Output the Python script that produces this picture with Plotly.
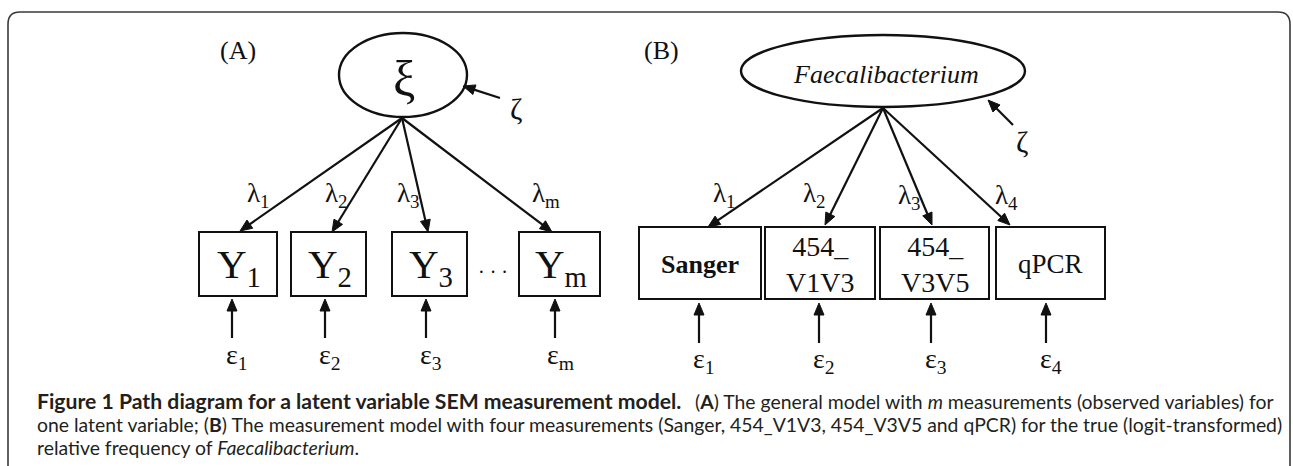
import math
import plotly.graph_objects as go

# ---------------- content (labels) ----------------
panel_labels = ["(A)", "(B)"]
latent_a = "ξ"
latent_b = "<i>Faecalibacterium</i>"
disturbance = "ζ"
items_a = ["Y<sub>1</sub>", "Y<sub>2</sub>", "Y<sub>3</sub>", "Y<sub>m</sub>"]
items_b = ["<b>Sanger</b>", "454_<br>V1V3", "454_<br>V3V5", "qPCR"]
loading_idx_a = ["1", "2", "3", "m"]
loading_idx_b = ["1", "2", "3", "4"]
error_idx_a = ["1", "2", "3", "m"]
error_idx_b = ["1", "2", "3", "4"]
caption_bold = "<b>Figure 1 Path diagram for a latent variable SEM measurement model.</b>"
caption_line1_rest = "(<b>A</b>) The general model with <i>m</i> measurements (observed variables) for"
caption_line2 = "one latent variable; (<b>B</b>) The measurement model with four measurements (Sanger, 454_V1V3, 454_V3V5 and qPCR) for the true (logit-transformed)"
caption_line3 = "relative frequency of <i>Faecalibacterium</i>."

# ---------------- layout geometry (pixels) ----------------
W, H = 1293, 466
SERIF = "Times New Roman, Liberation Serif, serif"
SANS = "Lato"
INK = "#111111"

ell_a = dict(cx=403, cy=75, rx=64, ry=42)
ell_b = dict(cx=883, cy=71, rx=142, ry=36)
root_a = (402, 118)
root_b = (883, 108)
boxes_a = [(199, 277), (291, 366), (392, 467), (519, 600)]
boxes_b = [(639, 761), (765, 875), (880, 989), (996, 1105)]
box_y_a = (232, 296)
box_y_b = (227, 299)
tips_a = [(240, 231), (332, 232), (428, 232), (552, 232)]
tips_b = [(708, 227), (825, 225), (932, 225), (1010, 225)]
lam_pos_a = [(258, 195), (336, 195), (408, 195), (546, 195)]
lam_pos_b = [(724, 195), (814, 195), (909, 197), (1006, 197)]
err_x_a = [232, 325, 426, 555]
err_x_b = [699, 819, 931, 1046]

fig = go.Figure()
shapes = []
annos = []


def line(x0, y0, x1, y1, w=2.2, color=INK):
    shapes.append(dict(type="line", x0=x0, y0=y0, x1=x1, y1=y1,
                       xref="x", yref="y", line=dict(color=color, width=w)))


def arrow(x0, y0, x1, y1, L=12, hw=5, w=2.2):
    dx, dy = x1 - x0, y1 - y0
    n = math.hypot(dx, dy)
    ux, uy = dx / n, dy / n
    bx, by = x1 - ux * L, y1 - uy * L
    px, py = -uy, ux
    line(x0, y0, bx + ux * 2, by + uy * 2, w)
    path = (f"M {x1:.2f} {y1:.2f} L {bx + px * hw:.2f} {by + py * hw:.2f} "
            f"L {bx - px * hw:.2f} {by - py * hw:.2f} Z")
    shapes.append(dict(type="path", path=path, xref="x", yref="y",
                       fillcolor=INK, line=dict(color=INK, width=1)))


def text(x, y, s, size, family=SERIF, xanchor="center", yanchor="middle",
         color=INK):
    annos.append(dict(x=x, y=y, xref="x", yref="y", text=s, showarrow=False,
                      xanchor=xanchor, yanchor=yanchor,
                      font=dict(family=family, size=size, color=color)))


# frame (rounded top corners, open bottom)
shapes.append(dict(type="path", xref="x", yref="y",
                   path="M 8 480 L 8 24 Q 8 12 20 12 L 1278 12 Q 1290 12 1290 24 L 1290 480",
                   line=dict(color="#3a3a3a", width=1.6)))

# panel labels
text(238, 50, panel_labels[0], 26)
text(661, 50, panel_labels[1], 26)

# latent ellipses
for e in (ell_a, ell_b):
    shapes.append(dict(type="circle", xref="x", yref="y",
                       x0=e["cx"] - e["rx"], x1=e["cx"] + e["rx"],
                       y0=e["cy"] - e["ry"], y1=e["cy"] + e["ry"],
                       line=dict(color=INK, width=2.4)))
text(ell_a["cx"] + 1, ell_a["cy"] + 4, latent_a, 50)
text(ell_b["cx"] + 3, ell_b["cy"] + 3, latent_b, 26)

# disturbances
arrow(500, 98, 463, 86)
text(516, 108, disturbance, 30)
arrow(1013, 125, 988, 100)
text(1022, 141, disturbance, 30)

# boxes
for (x0, x1) in boxes_a:
    shapes.append(dict(type="rect", xref="x", yref="y", x0=x0, x1=x1,
                       y0=box_y_a[0], y1=box_y_a[1], line=dict(color=INK, width=2)))
for (x0, x1) in boxes_b:
    shapes.append(dict(type="rect", xref="x", yref="y", x0=x0, x1=x1,
                       y0=box_y_b[0], y1=box_y_b[1], line=dict(color=INK, width=2)))

# box texts
for (x0, x1), s in zip(boxes_a, items_a):
    text((x0 + x1) / 2 + 1, (box_y_a[0] + box_y_a[1]) / 2 + 3, s, 41)
text((boxes_a[2][1] + boxes_a[3][0]) / 2, 272, "· · ·", 20)
b_sizes = [26, 28, 28, 27]
for (x0, x1), s, fs in zip(boxes_b, items_b, b_sizes):
    text((x0 + x1) / 2, (box_y_b[0] + box_y_b[1]) / 2 + 1, s, fs)

# loading arrows + labels
for tip in tips_a:
    arrow(root_a[0], root_a[1], tip[0], tip[1])
for tip in tips_b:
    arrow(root_b[0], root_b[1], tip[0], tip[1])
for (x, y), idx in zip(lam_pos_a, loading_idx_a):
    text(x, y, f"λ<sub>{idx}</sub>", 27)
for (x, y), idx in zip(lam_pos_b, loading_idx_b):
    text(x, y, f"λ<sub>{idx}</sub>", 27)

# error arrows + labels
for x, idx in zip(err_x_a, error_idx_a):
    arrow(x, 338, x, 299)
    text(x + 5, 356, f"ε<sub>{idx}</sub>", 28)
for x, idx in zip(err_x_b, error_idx_b):
    arrow(x, 343, x, 303)
    text(x + 5, 360, f"ε<sub>{idx}</sub>", 28)

# caption (justified look: first line split left/right)
CAP = "#231f20"
text(35, 401, caption_bold, 21.2, family=SANS, xanchor="left", color=CAP)
text(1276, 401, caption_line1_rest, 19.4, family=SANS, xanchor="right", color=CAP)
text(35, 424, caption_line2, 19.4, family=SANS, xanchor="left", color=CAP)
text(35, 447, caption_line3, 19.4, family=SANS, xanchor="left", color=CAP)

fig.update_layout(
    width=W, height=H, margin=dict(l=0, r=0, t=0, b=0),
    paper_bgcolor="white", plot_bgcolor="white",
    xaxis=dict(range=[0, W], visible=False, fixedrange=True),
    yaxis=dict(range=[H, 0], visible=False, fixedrange=True),
    shapes=shapes, annotations=annos, showlegend=False,
)
fig.write_html(
    "out.html",
    config={"displayModeBar": False, "staticPlot": True},
    post_script="document.body.style.margin='0';document.body.style.overflow='hidden';",
)
